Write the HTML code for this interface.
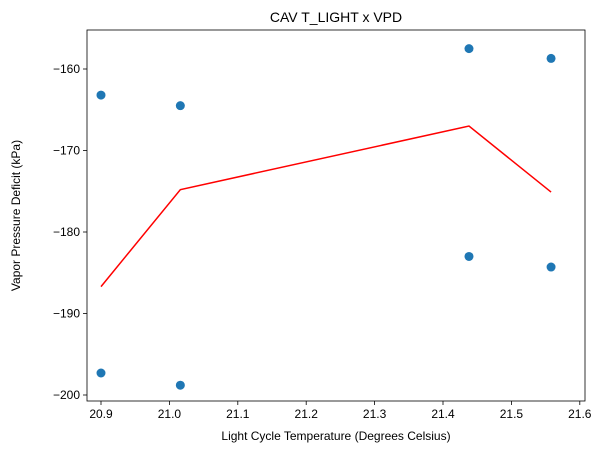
<!DOCTYPE html>
<html><head><meta charset="utf-8"><style>
body{margin:0;background:#fff;}
svg{display:block;font-family:"Liberation Sans","DejaVu Sans",sans-serif;}
</style></head><body>
<svg id="chart" width="596" height="453"></svg>
<script>
const xTicks=[20.9,21.0,21.1,21.2,21.3,21.4,21.5,21.6];
const yTicks=[-160,-170,-180,-190,-200];
const pointX=[20.9,20.9,21.016,21.016,21.438,21.438,21.558,21.558];
const pointY=[-163.2,-197.3,-164.5,-198.8,-157.5,-183.0,-158.7,-184.3];
const lineX=[20.9,21.016,21.438,21.558];
const lineY=[-186.7,-174.8,-167.0,-175.1];

const NS="http://www.w3.org/2000/svg";
const svg=document.getElementById('chart');
const L=87,R=585,T=30,B=401;
const sx=v=>101+(v-20.9)*684;
const sy=v=>69+(v+160)*-8.15;
function mk(tag,attrs,parent){const e=document.createElementNS(NS,tag);for(const k in attrs)e.setAttribute(k,attrs[k]);(parent||svg).appendChild(e);return e;}

const title=mk('text',{x:(L+R)/2,y:22,'text-anchor':'middle','font-size':14});


title.textContent='CAV T_LIGHT x VPD';

xTicks.forEach(t=>{
  const x=sx(t);
  const tk=mk('line',{x1:x,x2:x,y1:B,y2:B+4,stroke:'#000','stroke-width':0.8});
  
  
  const lb=mk('text',{x:x,y:B+17,'text-anchor':'middle','font-size':12});
  
  
  lb.textContent=t.toFixed(1);
});
yTicks.forEach(t=>{
  const y=sy(t);
  const tk=mk('line',{x1:L-4,x2:L,y1:y,y2:y,stroke:'#000','stroke-width':0.8});
  
  
  const lb=mk('text',{x:L-7,y:y+4,'text-anchor':'end','font-size':12});
  
  
  lb.textContent='\u2212'+Math.abs(t);
});

pointX.forEach((v,i)=>{
  const c=mk('circle',{cx:sx(v),cy:sy(pointY[i]),r:4.5,fill:'#1f77b4'});
  
  
});

const pl=mk('polyline',{points:lineX.map((v,i)=>sx(v)+','+sy(lineY[i])).join(' '),fill:'none',stroke:'#ff0000','stroke-width':1.5});



const frame=mk('rect',{x:L,y:T,width:R-L,height:B-T,fill:'none',stroke:'#000','stroke-width':0.8});



const xl=mk('text',{x:(L+R)/2,y:440,'text-anchor':'middle','font-size':12});


xl.textContent='Light Cycle Temperature (Degrees Celsius)';
const yl=mk('text',{x:0,y:0,'text-anchor':'middle','font-size':12,transform:'translate(20,'+((T+B)/2)+') rotate(-90)'});


yl.textContent='Vapor Pressure Deficit (kPa)';
</script>
</body></html>
